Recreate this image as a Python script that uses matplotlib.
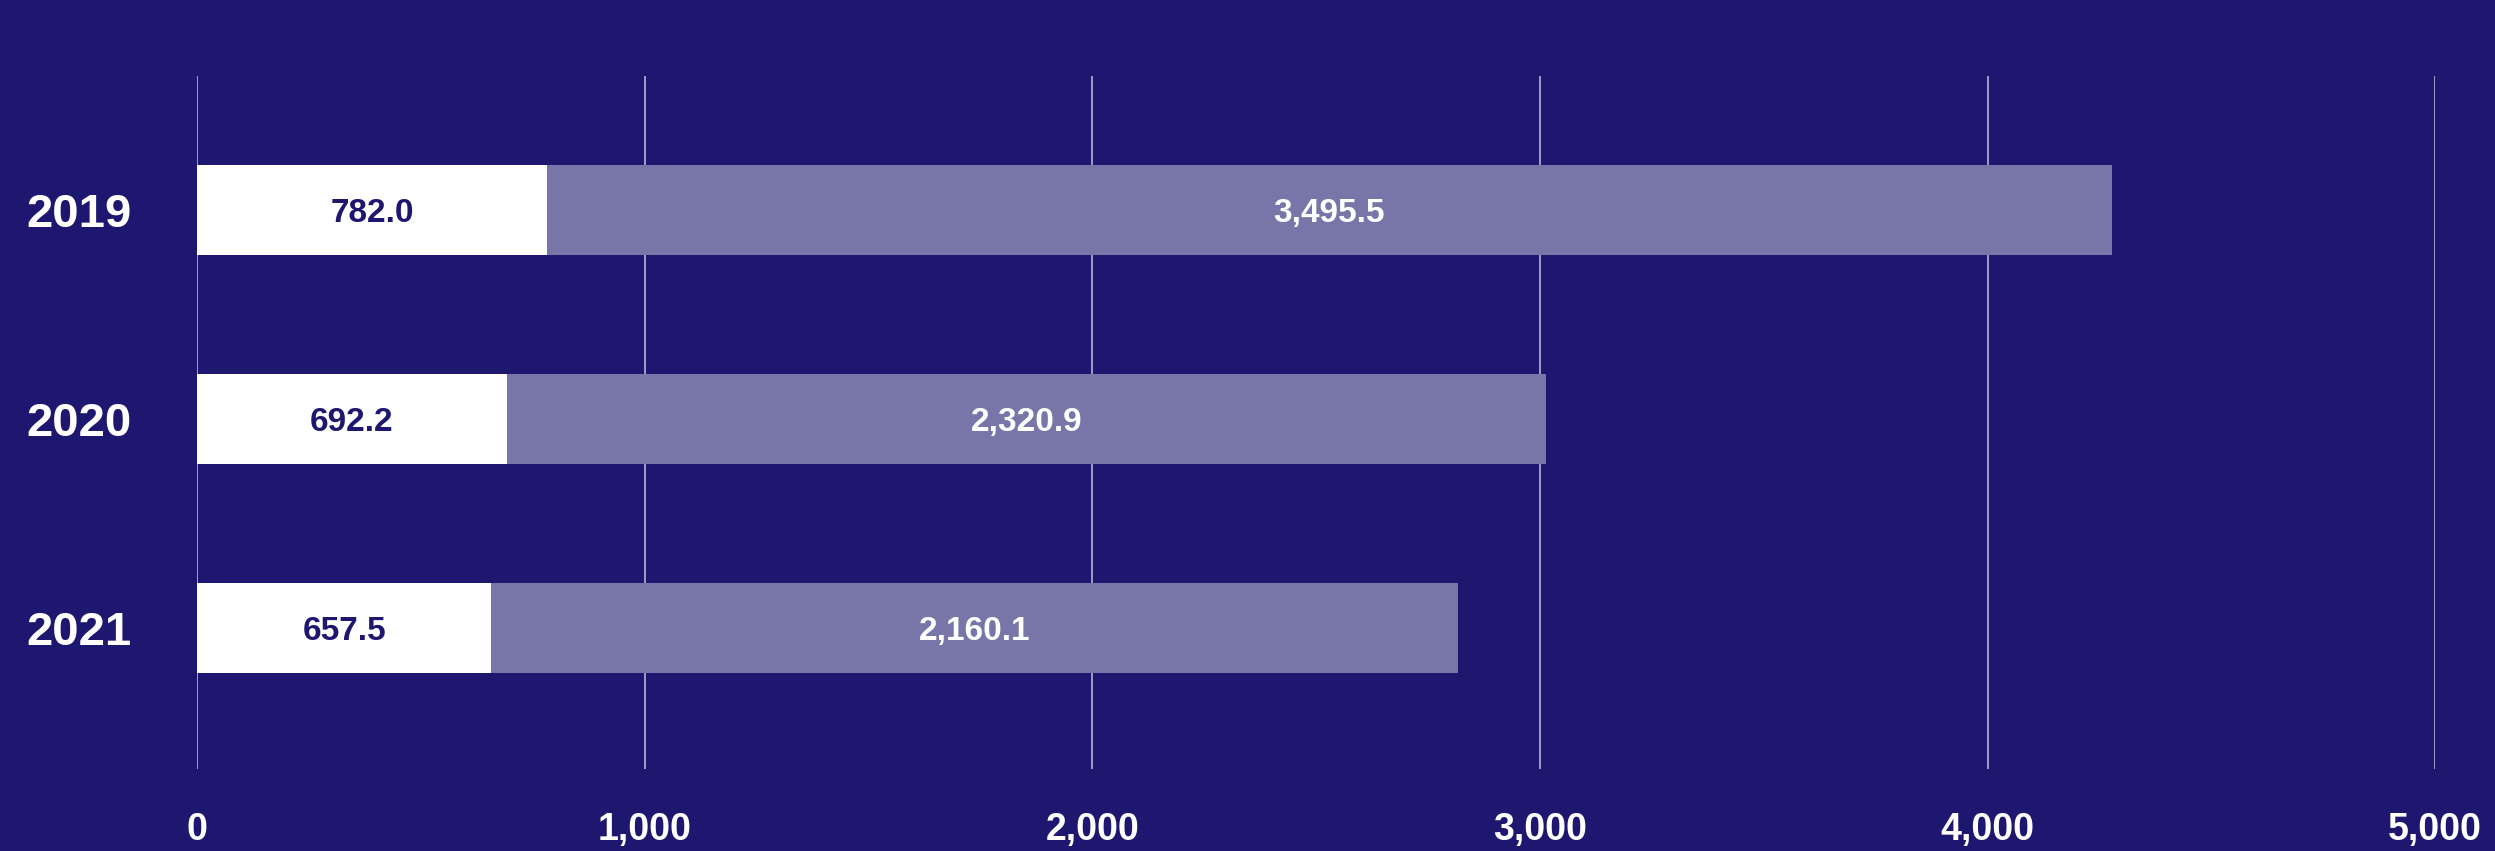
import numpy as np
import matplotlib
matplotlib.use("Agg")
import matplotlib.pyplot as plt

years = ["2019", "2020", "2021"]
first_part = [782.0, 692.2, 657.5]
second_part = [3495.5, 2320.9, 2160.1]
x_ticks = [0, 1000, 2000, 3000, 4000, 5000]

bg = "#1d1770"
light = "#7876a8"

plt.rcParams["font.family"] = ["Liberation Sans", "DejaVu Sans"]
plt.rcParams["font.weight"] = "bold"

fig = plt.figure(figsize=(24.95, 8.51), dpi=100, facecolor=bg)
ax = fig.add_axes([0.079, 0.0964, 0.897, 0.8143], facecolor=bg)

y = np.arange(len(years))
h = 0.43
ax.barh(y, first_part, height=h, color="white", zorder=3)
ax.barh(y, second_part, left=first_part, height=h, color=light, zorder=3)

# segment labels, centred in each piece of the stack
for yi, a, b in zip(y, first_part, second_part):
    ax.text(a / 2, yi, f"{a:,.1f}", ha="center", va="center_baseline",
            color=bg, fontsize=24, fontweight="bold", zorder=4)
    ax.text(a + b / 2, yi, f"{b:,.1f}", ha="center", va="center_baseline",
            color="white", fontsize=24, fontweight="bold", zorder=4)

ax.set_xlim(0, 5000)
ax.set_ylim(2.675, -0.641)
ax.set_xticks(x_ticks)
ax.set_xticklabels([f"{t:,}" for t in x_ticks])
ax.set_yticks(y)
ax.set_yticklabels(years)
ax.tick_params(axis="x", length=0, pad=31, labelsize=27, labelcolor="white")
ax.tick_params(axis="y", length=0, pad=47, labelsize=34, labelcolor="white")
for lbl in ax.get_xticklabels() + ax.get_yticklabels():
    lbl.set_fontweight("bold")

ax.grid(axis="x", color="#c4c3dc", linewidth=1.1, zorder=0)
ax.grid(axis="y", visible=False)
for s in ax.spines.values():
    s.set_visible(False)

fig.savefig("out.png", dpi=100, facecolor=bg)
